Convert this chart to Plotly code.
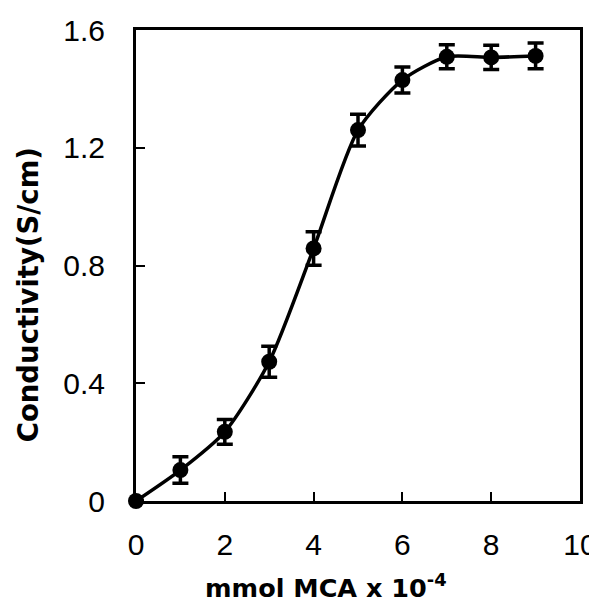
import plotly.graph_objects as go

mmol = [0, 1, 2, 3, 4, 5, 6, 7, 8, 9]
conductivity = [0.0, 0.105, 0.235, 0.473, 0.858, 1.26, 1.43, 1.509, 1.507, 1.512]
err = [0.0, 0.045, 0.042, 0.053, 0.057, 0.054, 0.044, 0.041, 0.041, 0.044]

x_ticks = [0, 2, 4, 6, 8, 10]
y_ticks = [0, 0.4, 0.8, 1.2, 1.6]
y_tick_text = ["0", "0.4", "0.8", "1.2", "1.6"]

fig = go.Figure()
fig.add_trace(go.Scatter(
    x=mmol, y=conductivity,
    mode="lines+markers",
    line=dict(color="black", width=3.5, shape="spline", smoothing=0.7),
    marker=dict(color="black", size=16, symbol="circle"),
    error_y=dict(type="data", array=err, visible=True, color="black", thickness=3.5, width=8),
    showlegend=False,
    cliponaxis=False,
))

tickfont = dict(family="Liberation Sans, Arial, sans-serif", size=30, color="black")
# the page body adds an 8px offset, so the figure is 8px smaller and margins shifted
fig.update_layout(
    width=589, height=598,
    margin=dict(l=128, r=17, t=22, b=105),
    paper_bgcolor="white", plot_bgcolor="white",
    xaxis=dict(range=[0, 10], tickvals=x_ticks, ticktext=[str(v) for v in x_ticks],
               ticks="inside", ticklen=9, tickwidth=2, tickcolor="black",
               showline=True, linecolor="black", linewidth=3, mirror=True, automargin=False,
               showgrid=False, zeroline=False, tickfont=tickfont, ticklabelstandoff=15),
    yaxis=dict(range=[0, 1.6], tickvals=y_ticks, ticktext=y_tick_text,
               ticks="inside", ticklen=9, tickwidth=2, tickcolor="black",
               showline=True, linecolor="black", linewidth=3, mirror=True, automargin=False,
               showgrid=False, zeroline=False, tickfont=tickfont, ticklabelstandoff=22),
    annotations=[
        dict(text="mmol MCA x 10<sup>-4</sup>", x=0.428, y=-0.18, xref="paper", yref="paper",
             xanchor="center", yanchor="middle", showarrow=False,
             font=dict(family="DejaVu Sans, sans-serif", size=25.5, color="black", weight="bold")),
        dict(text="Conductivity(S/cm)", x=-0.243, y=0.437, xref="paper", yref="paper",
             xanchor="center", yanchor="middle", showarrow=False, textangle=-90,
             font=dict(family="DejaVu Sans, sans-serif", size=27.5, color="black", weight="bold")),
    ],
)

fig.write_html("out.html")
